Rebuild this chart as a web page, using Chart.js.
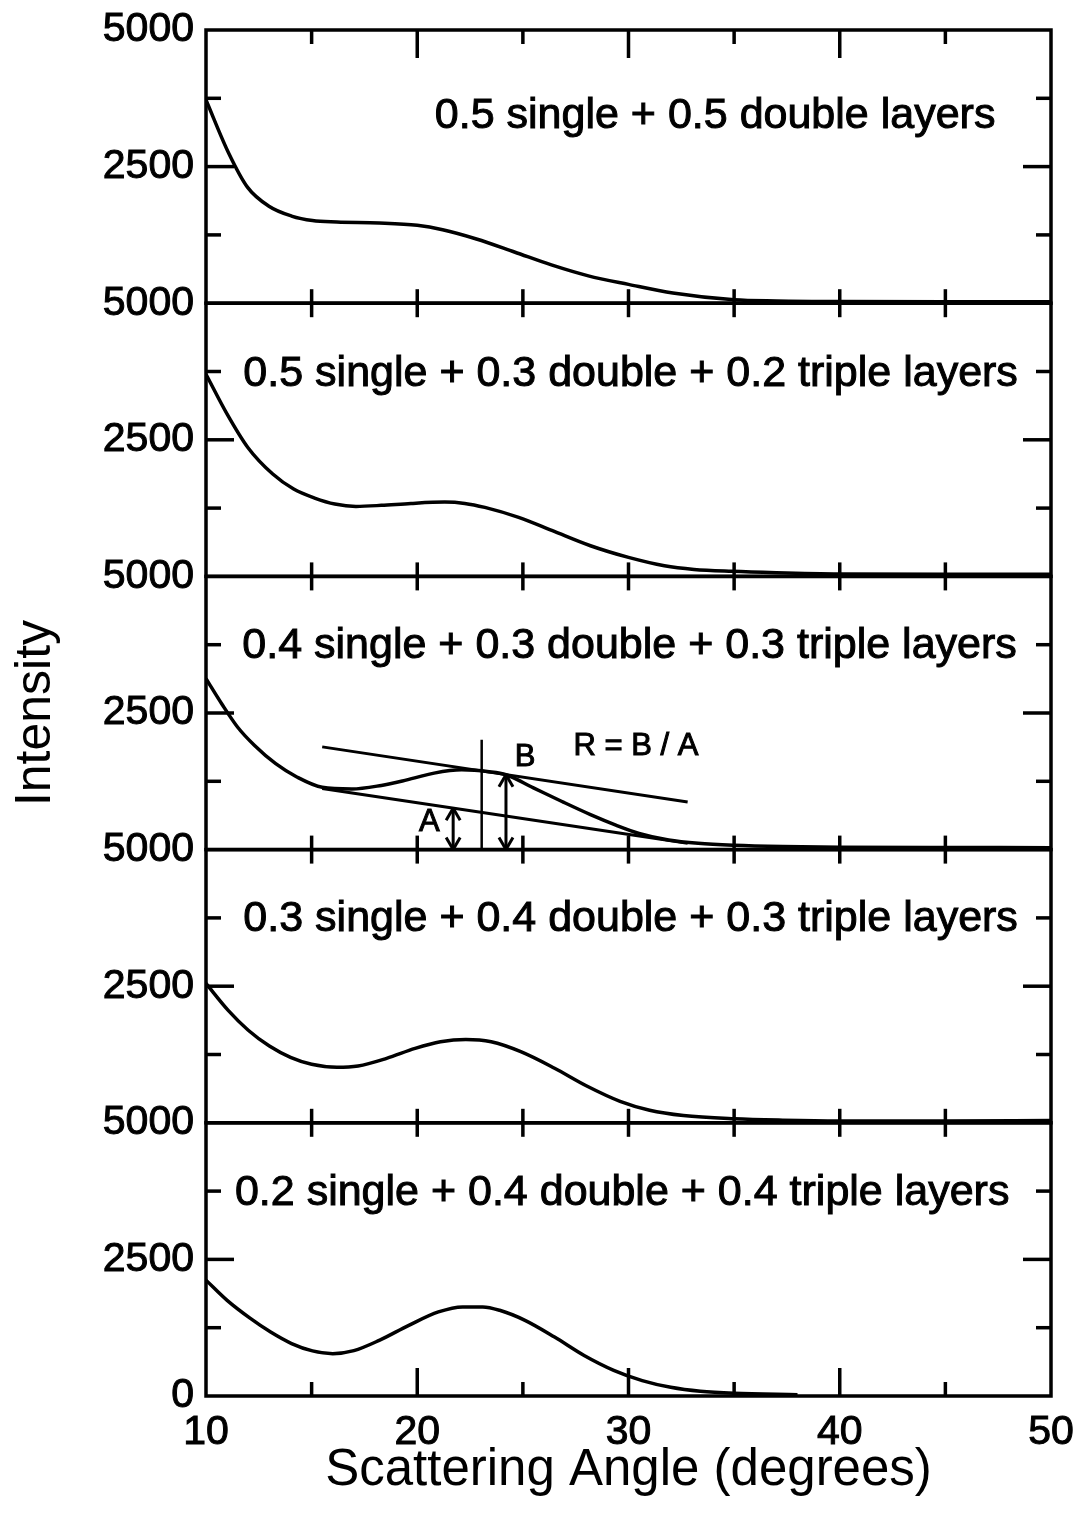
<!DOCTYPE html>
<html>
<head>
<meta charset="utf-8">
<script src="https://cdn.jsdelivr.net/npm/chart.js@4.4.0/dist/chart.umd.min.js"></script>
<style>
    body { margin: 0; background: #fff; }
    #wrap { width: 1074px; height: 1514px; }
</style>
</head>
<body>
<div id="wrap"><canvas id="chart" width="1074" height="1514"></canvas></div>
<script>
const FONT = '"Liberation Sans", Arial, Helvetica, sans-serif';

// one panel per layer mixture, top to bottom
const panelIds = ['p1', 'p2', 'p3', 'p4', 'p5'];
const panelLabels = [
    '0.5 single + 0.5 double layers',
    '0.5 single + 0.3 double + 0.2 triple layers',
    '0.4 single + 0.3 double + 0.3 triple layers',
    '0.3 single + 0.4 double + 0.3 triple layers',
    '0.2 single + 0.4 double + 0.4 triple layers'
];

const angle1 = [10, 11.07, 11.96, 12.96, 14.05, 15.04, 16.2, 18.2, 20, 21.2, 22.8, 24.6, 26.35, 28.1, 30, 32.1, 35, 37, 40, 45, 50];
const intensity1 = [3720, 2750, 2125, 1780, 1595, 1512, 1487, 1469, 1425, 1344, 1175, 937, 700, 500, 344, 187, 62, 40, 30, 28, 28];

const angle2 = [10, 11, 11.98, 13.16, 14.15, 15.14, 16.1, 17.1, 18.3, 19.7, 21.3, 22.25, 23.2, 24.8, 26.4, 28.2, 30, 31.7, 33.1, 34.9, 37, 40, 45, 50];
const intensity2 = [3700, 2970, 2360, 1873, 1598, 1434, 1324, 1281, 1300, 1336, 1360, 1336, 1263, 1080, 836, 561, 348, 195, 128, 92, 67, 45, 40, 40];

const angle3 = [10, 10.75, 11.5, 12.3, 13.3, 14.3, 15.5, 16.9, 18.3, 19.3, 20.8, 22.1, 23.4, 24.2, 25.5, 26.85, 28.2, 29.4, 30.5, 31.9, 33.3, 35, 37.3, 40, 45, 50];
const intensity3 = [3130, 2665, 2240, 1906, 1572, 1329, 1140, 1110, 1175, 1255, 1400, 1460, 1425, 1370, 1130, 880, 640, 449, 297, 176, 115, 79, 55, 42, 38, 35];

const angle4 = [10, 11.05, 12, 13, 14, 15, 16.2, 17.2, 18.55, 19.9, 21.1, 22.3, 23.5, 24.9, 26.5, 28, 29.6, 31, 32.6, 35, 37.3, 40, 45, 50];
const intensity4 = [2550, 2057, 1694, 1404, 1198, 1071, 1016, 1041, 1180, 1361, 1482, 1525, 1482, 1301, 998, 678, 393, 230, 133, 73, 48, 35, 35, 40];

const angle5 = [10, 11, 12.1, 13.06, 14.05, 15.04, 16, 17, 18.2, 19.6, 21, 22.15, 23.1, 23.9, 25.1, 26.5, 27.9, 29.3, 30.65, 32, 33.4, 35, 38];
const intensity5 = [2120, 1750, 1420, 1170, 960, 825, 775, 830, 1018, 1293, 1539, 1631, 1631, 1569, 1385, 1079, 742, 470, 282, 159, 86, 49, 25];

// construction for R = B / A in the middle panel
const upperLineX = [15.5, 32.8];
const upperLineY = [1880, 870];
const baseLineX = [15.5, 32.8];
const baseLineY = [1120, 118];
const peakMarkX = [23.05, 23.05];
const peakMarkY = [0, 2010];
const arrowAX = [21.7, 21.7];
const arrowAY = [0, 755];
const arrowBX = [24.2, 24.2];
const arrowBY = [0, 1372];

const xTickValues = [15, 20, 25, 30, 35, 40, 45];
const yTickValues = [1250, 2500, 3750];

function points(xs, ys) {
    return xs.map((x, k) => ({x: x, y: ys[k]}));
}

function curve(xs, ys, axis) {
    return {
        data: points(xs, ys),
        yAxisID: axis,
        borderColor: '#000',
        borderWidth: 3.5,
        pointRadius: 0,
        fill: false,
        cubicInterpolationMode: 'monotone'
    };
}

function straight(xs, ys, width, arrows) {
    return {
        data: points(xs, ys),
        yAxisID: 'p3',
        borderColor: '#000',
        borderWidth: width,
        pointRadius: 0,
        fill: false,
        tension: 0,
        arrows: arrows
    };
}

function stroke(ctx, x1, y1, x2, y2) {
    ctx.beginPath();
    ctx.moveTo(x1, y1);
    ctx.lineTo(x2, y2);
    ctx.stroke();
}

// panel frames plus inward tick marks
const frameAndTicks = {
    id: 'frameAndTicks',
    afterDatasetsDraw(chart) {
        const ctx = chart.ctx;
        const area = chart.chartArea;
        const xs = chart.scales.x;
        ctx.save();
        ctx.strokeStyle = '#000';
        ctx.lineWidth = 3.5;
        panelIds.forEach((id, i) => {
            const s = chart.scales[id];
            const top = s.getPixelForValue(5000);
            const bottom = s.getPixelForValue(0);
            ctx.strokeRect(area.left, top, area.right - area.left, bottom - top);
            yTickValues.forEach(v => {
                const py = s.getPixelForValue(v);
                const len = v % 2500 === 0 ? 28 : 15;
                stroke(ctx, area.left, py, area.left + len, py);
                stroke(ctx, area.right, py, area.right - len, py);
            });
            xTickValues.forEach(v => {
                const px = xs.getPixelForValue(v);
                const len = v % 10 === 0 ? 28 : 14;
                stroke(ctx, px, top, px, top + (i === 0 ? len : 14));
                stroke(ctx, px, bottom, px, bottom - (i === panelIds.length - 1 ? len : 14));
            });
        });

        // double-headed arrows A and B
        ctx.lineWidth = 3;
        chart.data.datasets.forEach((ds, k) => {
            if (!ds.arrows) return;
            const pts = chart.getDatasetMeta(k).data;
            const low = pts[0], high = pts[1];
            stroke(ctx, high.x - 7, high.y + 12, high.x, high.y);
            stroke(ctx, high.x + 7, high.y + 12, high.x, high.y);
            stroke(ctx, low.x - 7, low.y - 12, low.x, low.y);
            stroke(ctx, low.x + 7, low.y - 12, low.x, low.y);
        });
        ctx.restore();
    }
};

const labelAnchors = {
    panels: [[34.1, 3430], [30.1, 3705], [30.05, 3723], [30.1, 3723], [29.7, 3705]],
    A: [20.57, 493],
    B: [25.1, 1679],
    ratio: [30.35, 1880]
};

function heavyText(ctx, text, x, y) {
    ctx.strokeText(text, x, y);
    ctx.fillText(text, x, y);
}

const panelText = {
    id: 'panelText',
    afterDraw(chart) {
        const ctx = chart.ctx;
        const xs = chart.scales.x;
        ctx.save();
        ctx.fillStyle = '#000';
        ctx.strokeStyle = '#000';
        ctx.lineWidth = 1;
        ctx.textAlign = 'center';
        ctx.textBaseline = 'middle';
        ctx.font = '43px ' + FONT;
        panelIds.forEach((id, i) => {
            const a = labelAnchors.panels[i];
            heavyText(ctx, panelLabels[i], xs.getPixelForValue(a[0]), chart.scales[id].getPixelForValue(a[1]));
        });
        const mid = chart.scales.p3;
        ctx.font = '31px ' + FONT;
        heavyText(ctx, 'A', xs.getPixelForValue(labelAnchors.A[0]), mid.getPixelForValue(labelAnchors.A[1]));
        heavyText(ctx, 'B', xs.getPixelForValue(labelAnchors.B[0]), mid.getPixelForValue(labelAnchors.B[1]));
        heavyText(ctx, 'R = B / A', xs.getPixelForValue(labelAnchors.ratio[0]), mid.getPixelForValue(labelAnchors.ratio[1]));
        ctx.restore();
    }
};

const tickFont = {size: 41, family: FONT};

let scales = {
    x: {
        type: 'linear',
        position: 'bottom',
        min: 10,
        max: 50,
        ticks: {stepSize: 10, color: '#000', font: tickFont, padding: 12, maxRotation: 0,
            textStrokeColor: '#000', textStrokeWidth: 1},
        grid: {display: false, drawTicks: false},
        border: {display: false},
        title: {display: true, text: 'Scattering Angle (degrees)', color: '#000',
            font: {size: 51, family: FONT}, padding: {top: 0, bottom: 12}},
        afterFit: function (scale) {
            scale.height = 118;
            scale.paddingLeft = 0;
            scale.paddingRight = 0;
        }
    }
};

panelIds.forEach((id, i) => {
    scales[id] = {
        type: 'linear',
        position: 'left',
        stack: 'panels',
        stackWeight: 1,
        weight: panelIds.length - i,
        min: 0,
        max: 5000,
        ticks: {
            stepSize: 2500,
            autoSkip: false,
            color: '#000',
            font: tickFont,
            padding: 12,
            textStrokeColor: '#000',
            textStrokeWidth: 1,
            callback: v => (v === 0 && i < panelIds.length - 1) ? '' : String(v)
        },
        grid: {display: false, drawTicks: false},
        border: {display: false},
        title: {display: i === 2, text: 'Intensity', color: '#000',
            font: {size: 50, family: FONT}, padding: {top: 6, bottom: 0}},
        afterFit: function (scale) {
            scale.width = 206;
            scale.paddingTop = 0;
            scale.paddingBottom = 0;
        }
    };
});

new Chart(document.getElementById('chart'), {
    type: 'line',
    data: {
        datasets: [
            curve(angle1, intensity1, 'p1'),
            curve(angle2, intensity2, 'p2'),
            curve(angle3, intensity3, 'p3'),
            curve(angle4, intensity4, 'p4'),
            curve(angle5, intensity5, 'p5'),
            straight(upperLineX, upperLineY, 3, false),
            straight(baseLineX, baseLineY, 3, false),
            straight(peakMarkX, peakMarkY, 2.5, false),
            straight(arrowAX, arrowAY, 3, true),
            straight(arrowBX, arrowBY, 3, true)
        ]
    },
    options: {
        responsive: false,
        animation: false,
        layout: {padding: {top: 30, right: 23, bottom: 0, left: 0}},
        plugins: {legend: {display: false}, tooltip: {enabled: false}},
        scales: scales
    },
    plugins: [frameAndTicks, panelText]
});
</script>
</body>
</html>
